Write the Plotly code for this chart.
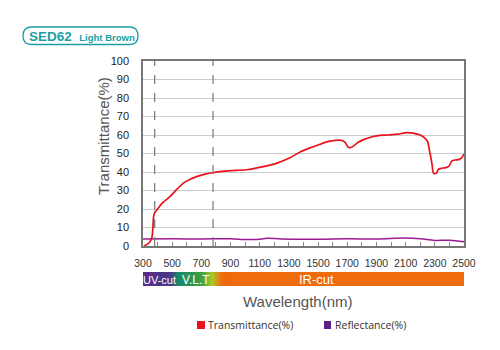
import numpy as np
import plotly.graph_objects as go

# ---------------- data ----------------
wl_T = [307, 330, 350, 362, 368, 372, 380, 400, 430, 485, 530, 577, 620, 668, 720, 778,
        840, 900, 1010, 1125, 1220, 1310, 1380, 1450, 1514, 1560, 1605, 1640, 1663, 1685,
        1708, 1732, 1770, 1811, 1860, 1903, 1950, 1994, 2050, 2109, 2150, 2200, 2234, 2250,
        2265, 2280, 2291, 2310, 2325, 2345, 2383, 2400, 2417, 2440, 2463, 2485, 2500]
transmittance = [0, 1, 2.5, 5, 10, 15.5, 18, 20, 23, 26.7, 30.5, 34, 36, 37.5, 38.7, 39.6,
                 40.3, 40.7, 41.2, 42.9, 44.8, 47.8, 51, 53.2, 55, 56.3, 57, 57.2, 57, 56,
                 53.3, 53.5, 55.8, 57.5, 58.8, 59.5, 59.9, 60.1, 60.5, 61.3, 61, 60, 58.2, 56.5,
                 51, 44.7, 39.3, 39.3, 41.5, 42, 42.5, 43.5, 46, 46.5, 46.7, 47.8, 49.7]

wl_R = [300, 500, 700, 900, 1000, 1100, 1150, 1250, 1500, 1700, 1900, 2100, 2200, 2300, 2400, 2500]
reflectance = [3.8, 3.9, 3.8, 3.9, 3.5, 3.6, 4.2, 3.8, 3.7, 3.9, 3.8, 4.3, 3.9, 3.0, 3.1, 2.3]

vlt_bounds = [380, 780]
x_tick_vals = list(range(300, 2501, 200))
y_tick_vals = list(range(0, 101, 10))
band_labels = [("UV-cut", 410), ("V.L.T", 663), ("IR-cut", 1487)]

RED = "#e8131b"
PURPLE_LINE = "#9c1a94"
PURPLE_SQ = "#5b2188"
TEAL = "#1c9ea0"

# ---------------- layout geometry (pixels) ----------------
W, H = 500, 350
L, R, T, B = 143, 36, 61, 104
pw, ph = W - L - R, H - T - B

def px_x(p):
    return (p - L) / pw

def px_y(p):
    return (H - B - p) / ph

fig = go.Figure()
fig.add_trace(go.Scatter(x=wl_R, y=reflectance, mode="lines", line=dict(color=PURPLE_LINE, width=1.5, shape="spline"),
                         showlegend=False, hoverinfo="skip"))
fig.add_trace(go.Scatter(x=wl_T, y=transmittance, mode="lines", line=dict(color=RED, width=1.7, shape="spline", smoothing=0.6),
                         showlegend=False))

shapes = []

# gradient band (drawn first)
stops_wl = [300, 490, 540, 700, 775, 840, 2500]
stops_col = [(0x5a, 0x2d, 0x87), (0x4a, 0x3a, 0x88), (0x17, 0x8a, 0x6a), (0x40, 0xa0, 0x40),
             (0xb0, 0xc8, 0x28), (0xf0, 0x6c, 0x10), (0xee, 0x6b, 0x0e)]
by0, by1 = px_y(286), px_y(272)
shapes.append(dict(type="rect", xref="x", yref="paper", x0=880, x1=2500, y0=by0, y1=by1,
                   line=dict(width=0), fillcolor="rgb(238,107,14)"))
edges = list(np.arange(300, 900, 4))
for a in edges:
    m = a + 2
    c = [int(np.interp(m, stops_wl, [s[i] for s in stops_col])) for i in range(3)]
    shapes.append(dict(type="rect", xref="x", yref="paper", x0=a, x1=a + 12, y0=by0, y1=by1,
                       line=dict(width=0), fillcolor="rgb(%d,%d,%d)" % tuple(c)))

for v in vlt_bounds:
    shapes.append(dict(type="line", xref="x", yref="y", x0=v, x1=v, y0=0, y1=100,
                       line=dict(color="#777777", width=1.2, dash="dash"), layer="above"))

# title rounded box
x0, x1 = px_x(23), px_x(138)
y0, y1 = px_y(44.5), px_y(27)
rx = 8.5 / pw
ry = 8.75 / ph
path = (f"M {x0+rx},{y0} L {x1-rx},{y0} Q {x1},{y0} {x1},{(y0+y1)/2} Q {x1},{y1} {x1-rx},{y1} "
        f"L {x0+rx},{y1} Q {x0},{y1} {x0},{(y0+y1)/2} Q {x0},{y0} {x0+rx},{y0} Z")
shapes.append(dict(type="path", xref="paper", yref="paper", path=path, line=dict(color=TEAL, width=1.3)))

annotations = []
annotations.append(dict(xref="paper", yref="paper", x=px_x(82), y=px_y(36), xanchor="center", yanchor="middle",
                        showarrow=False,
                        text="<b>SED62</b>  <b><span style='font-size:9.5px'>Light Brown</span></b>",
                        font=dict(family="Liberation Sans, Arial", size=13.5, color=TEAL)))
for txt, wl in band_labels:
    size = {"UV-cut": 11, "V.L.T": 12, "IR-cut": 13}[txt]
    annotations.append(dict(xref="x", yref="paper", x=wl, y=px_y(279.5), xanchor="center", yanchor="middle",
                            showarrow=False, text=txt,
                            font=dict(family="Liberation Sans, Arial", size=size, color="white")))
annotations.append(dict(xref="paper", yref="paper", x=px_x(297), y=px_y(301), xanchor="center", yanchor="middle",
                        showarrow=False, text="Wavelength(nm)",
                        font=dict(family="Liberation Sans, Arial", size=15, color="#555555")))
annotations.append(dict(xref="paper", yref="paper", x=px_x(103), y=px_y(136), xanchor="center", yanchor="middle",
                        showarrow=False, text="Transmittance(%)", textangle=-90,
                        font=dict(family="Liberation Sans, Arial", size=15, color="#555555")))
# legend
shapes.append(dict(type="rect", xref="paper", yref="paper", x0=px_x(197), x1=px_x(205), y0=px_y(329), y1=px_y(321),
                   fillcolor=RED, line=dict(width=0)))
shapes.append(dict(type="rect", xref="paper", yref="paper", x0=px_x(324), x1=px_x(331), y0=px_y(329), y1=px_y(321),
                   fillcolor=PURPLE_SQ, line=dict(width=0)))
annotations.append(dict(xref="paper", yref="paper", x=px_x(206), y=px_y(325), xanchor="left", yanchor="middle",
                        showarrow=False, text="Transmittance(%)",
                        font=dict(family="Open Sans, Arial", size=10.5, color="#333333")))
annotations.append(dict(xref="paper", yref="paper", x=px_x(333), y=px_y(325), xanchor="left", yanchor="middle",
                        showarrow=False, text="Reflectance(%)",
                        font=dict(family="Open Sans, Arial", size=10.5, color="#333333")))

fig.update_layout(
    width=W, height=H,
    margin=dict(l=L, r=R, t=T, b=B, pad=0),
    paper_bgcolor="white", plot_bgcolor="white",
    showlegend=False,
    shapes=shapes, annotations=annotations,
    xaxis=dict(range=[300, 2500], tickvals=x_tick_vals, ticks="inside", ticklen=4, tickcolor="#888888",
               minor=dict(dtick=100, tick0=300, ticks="inside", ticklen=4, tickcolor="#888888"),
               showgrid=False, zeroline=False, showline=True, linecolor="#777777", linewidth=1.5, mirror=True,
               tickfont=dict(family="Liberation Sans, Arial", size=10.5, color="#333333"), ticklabelstandoff=7),
    yaxis=dict(range=[0, 100], tickvals=y_tick_vals, ticks="", showgrid=True, gridcolor="#cccccc", gridwidth=1,
               zeroline=False, showline=True, linecolor="#777777", linewidth=1.5, mirror=True,
               tickfont=dict(family="Liberation Sans, Arial", size=11, color="#222222"), ticklabelstandoff=10),
)

fig.write_html("out.html")
